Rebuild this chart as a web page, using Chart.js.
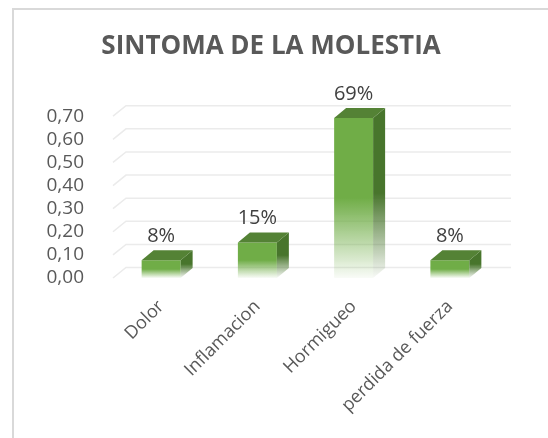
<!DOCTYPE html>
<html>
<head>
<meta charset="utf-8">
<script src="https://cdn.jsdelivr.net/npm/chart.js@4.4.1/dist/chart.umd.min.js"></script>
<style>
  body { margin: 0; background: #fff; }
  canvas { display: block; }
</style>
</head>
<body>
<canvas id="sintomaChart" width="548" height="438"></canvas>
<script>
const categories = ['Dolor', 'Inflamacion', 'Hormigueo', 'perdida de fuerza'];
const shares = [0.077, 0.154, 0.692, 0.077];
const yTickLabels = ['0,00', '0,10', '0,20', '0,30', '0,40', '0,50', '0,60', '0,70'];

// 3d look
const DEPTH_X = 13;
const DEPTH_Y = 10.5;
const GREEN = '112,173,71';

const fadeGradient = (ctx, top, bottom, rgb) => {
    const g = ctx.createLinearGradient(0, top, 0, bottom);
    g.addColorStop(0, 'rgba(' + rgb + ',1)');
    g.addColorStop(0.5, 'rgba(' + rgb + ',1)');
    g.addColorStop(1, 'rgba(' + rgb + ',0.04)');
    return g;
};

const framePlugin = {
    id: 'frame',
    beforeDraw: (chart) => {
        const ctx = chart.ctx;
        ctx.save();
        ctx.strokeStyle = '#d9d9d9';
        ctx.lineWidth = 2;
        ctx.beginPath();
        ctx.moveTo(13, chart.height);
        ctx.lineTo(13, 9);
        ctx.lineTo(chart.width, 9);
        ctx.stroke();
        ctx.restore();
    }
};

const wallsPlugin = {
    id: 'walls',
    beforeDatasetsDraw: (chart) => {
        const ctx = chart.ctx;
        const area = chart.chartArea;
        const y = chart.scales.y;
        ctx.save();
        ctx.strokeStyle = '#ebebeb';
        ctx.lineWidth = 1.5;
        y.ticks.forEach(t => {
            const py = y.getPixelForValue(t.value);
            ctx.beginPath();
            ctx.moveTo(area.left, py);
            ctx.lineTo(area.left + DEPTH_X, py - DEPTH_Y);
            ctx.lineTo(area.right + DEPTH_X, py - DEPTH_Y);
            ctx.stroke();
        });
        ctx.restore();
    }
};

const bars3dPlugin = {
    id: 'bars3d',
    afterDatasetsDraw: (chart) => {
        const ctx = chart.ctx;
        const meta = chart.getDatasetMeta(0);
        const dx = DEPTH_X - 1;
        const dy = DEPTH_Y - 0.5;
        ctx.save();
        meta.data.forEach((bar, i) => {
            const p = bar.getProps(['x', 'y', 'base', 'width'], true);
            const left = p.x - p.width / 2;
            const right = p.x + p.width / 2;

            // side face
            ctx.fillStyle = fadeGradient(ctx, p.y - dy, p.base, '72,117,44');
            ctx.beginPath();
            ctx.moveTo(right, p.y);
            ctx.lineTo(right + dx, p.y - dy);
            ctx.lineTo(right + dx, p.base - dy);
            ctx.lineTo(right, p.base);
            ctx.closePath();
            ctx.fill();

            // top face
            ctx.fillStyle = '#548235';
            ctx.beginPath();
            ctx.moveTo(left, p.y);
            ctx.lineTo(left + dx, p.y - dy);
            ctx.lineTo(right + dx, p.y - dy);
            ctx.lineTo(right, p.y);
            ctx.closePath();
            ctx.fill();

            // value label
            ctx.fillStyle = '#404040';
            ctx.font = '20px "Open Sans"';
            ctx.textAlign = 'center';
            ctx.textBaseline = 'alphabetic';
            ctx.fillText(Math.round(shares[i] * 100) + '%', p.x, p.y - dy - 8);
        });
        ctx.restore();
    }
};

const ctx = document.getElementById('sintomaChart').getContext('2d');
const chart = new Chart(ctx, {
    type: 'bar',
    data: {
        labels: categories,
        datasets: [{
            data: shares,
            barPercentage: 0.405,
            categoryPercentage: 1,
            backgroundColor: (c) => {
                const ch = c.chart;
                if (!ch.chartArea) return 'rgb(' + GREEN + ')';
                const top = ch.scales.y.getPixelForValue(c.raw);
                const bottom = ch.scales.y.getPixelForValue(0);
                return fadeGradient(ch.ctx, top, bottom, GREEN);
            }
        }]
    },
    options: {
        responsive: false,
        animation: false,
        devicePixelRatio: 1,
        layout: {
            padding: { left: 44, right: 50, top: 0, bottom: 0 }
        },
        plugins: {
            legend: { display: false },
            tooltip: { enabled: false },
            title: {
                display: true,
                text: 'SINTOMA DE LA MOLESTIA',
                color: '#595959',
                font: { family: 'Open Sans', size: 26, weight: 'bold' },
                padding: { top: 31, bottom: 54 }
            }
        },
        scales: {
            x: {
                grid: { display: false },
                border: { display: false },
                ticks: {
                    autoSkip: false,
                    minRotation: 45,
                    maxRotation: 45,
                    padding: 10,
                    color: '#595959',
                    font: { family: 'Open Sans', size: 18 }
                },
                afterFit: (scale) => { scale.height = 160; }
            },
            y: {
                min: 0,
                max: 0.7,
                grid: { display: false },
                border: { display: false },
                ticks: {
                    autoSkip: false,
                    stepSize: 0.1,
                    padding: 21,
                    color: '#595959',
                    font: { family: 'Open Sans', size: 19 },
                    callback: (value, index) => yTickLabels[index]
                },
                afterFit: (scale) => { scale.width = 69; }
            }
        }
    },
    plugins: [framePlugin, wallsPlugin, bars3dPlugin]
});
</script>
</body>
</html>
